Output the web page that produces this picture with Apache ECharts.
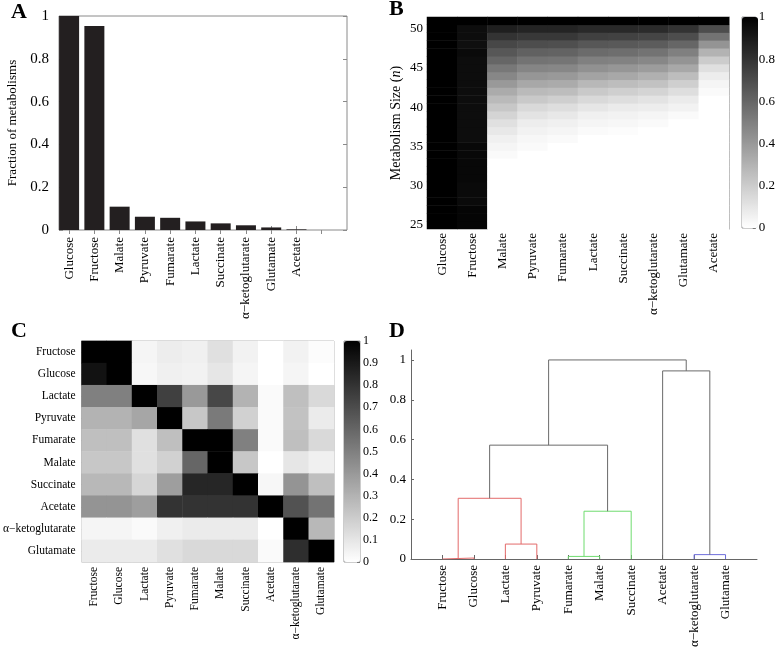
<!DOCTYPE html>
<html><head><meta charset="utf-8">
<script src="https://cdn.jsdelivr.net/npm/echarts@6/dist/echarts.min.js"></script>
<style>html,body{margin:0;padding:0;background:#fff}#c{width:778px;height:650px}</style>
</head><body><div id="c"></div>
<script>
// ---------- DATA ----------
// Panel A
const metabolites = ['Glucose','Fructose','Malate','Pyruvate','Fumarate','Lactate','Succinate','α−ketoglutarate','Glutamate','Acetate'];
const fractionValues = [1.0, 0.953, 0.109, 0.062, 0.057, 0.040, 0.031, 0.022, 0.012, 0.003];
const fractionTicks = [0, 0.2, 0.4, 0.6, 0.8, 1];

// Panel B (metabolism size n = 25 .. 51, one value per n, per metabolite column)
const sizeValues = [25,26,27,28,29,30,31,32,33,34,35,36,37,38,39,40,41,42,43,44,45,46,47,48,49,50,51];
const colGlucose   = [1,1,1,1,1,1,1,1,1,1,1,1,1,1,1,1,1,1,1,1,1,1,1,1,1,1,1];
const colFructose  = [0.98,0.98,0.98,0.96,0.96,0.96,0.97,0.97,0.97,0.97,0.97,0.95,0.95,0.95,0.95,0.95,0.95,0.95,0.95,0.95,0.95,0.95,0.96,0.94,0.95,0.95,1];
const colMalate    = [0,0,0,0,0,0,0,0,0,0.02,0.04,0.06,0.09,0.12,0.17,0.22,0.27,0.33,0.40,0.47,0.53,0.60,0.66,0.72,0.80,0.88,1];
const colPyruvate  = [0,0,0,0,0,0,0,0,0,0,0.02,0.03,0.05,0.07,0.11,0.15,0.21,0.27,0.34,0.41,0.48,0.55,0.62,0.70,0.78,0.86,1];
const colFumarate  = [0,0,0,0,0,0,0,0,0,0,0,0.02,0.04,0.06,0.09,0.13,0.19,0.26,0.33,0.40,0.47,0.54,0.61,0.69,0.78,0.86,1];
const colLactate   = [0,0,0,0,0,0,0,0,0,0,0,0,0.02,0.04,0.06,0.10,0.15,0.21,0.28,0.36,0.43,0.50,0.58,0.66,0.75,0.84,1];
const colSuccinate = [0,0,0,0,0,0,0,0,0,0,0,0,0.01,0.03,0.05,0.08,0.13,0.19,0.26,0.34,0.41,0.49,0.57,0.65,0.74,0.84,1];
const colKetoglut  = [0,0,0,0,0,0,0,0,0,0,0,0,0,0.02,0.04,0.07,0.11,0.17,0.24,0.31,0.39,0.47,0.55,0.64,0.73,0.83,1];
const colGlutamate = [0,0,0,0,0,0,0,0,0,0,0,0,0,0,0.02,0.05,0.08,0.13,0.19,0.26,0.34,0.42,0.50,0.60,0.70,0.80,1];
const colAcetate   = [0,0,0,0,0,0,0,0,0,0,0,0,0,0,0,0,0,0.02,0.04,0.07,0.12,0.20,0.30,0.42,0.55,0.70,1];
const colorbarTicksB = [0, 0.2, 0.4, 0.6, 0.8, 1];

// Panel C (similarity matrix, rows top->bottom, columns left->right)
const simNames = ['Fructose','Glucose','Lactate','Pyruvate','Fumarate','Malate','Succinate','Acetate','α−ketoglutarate','Glutamate'];
const rowFructose  = [1.00,1.00,0.04,0.07,0.06,0.12,0.05,0.00,0.05,0.01];
const rowGlucose   = [0.93,1.00,0.03,0.06,0.05,0.10,0.04,0.00,0.04,0.00];
const rowLactate   = [0.50,0.50,1.00,0.75,0.40,0.72,0.30,0.02,0.25,0.15];
const rowPyruvate  = [0.30,0.30,0.35,1.00,0.22,0.52,0.18,0.02,0.24,0.08];
const rowFumarate  = [0.25,0.25,0.12,0.25,1.00,1.00,0.50,0.02,0.25,0.15];
const rowMalate    = [0.22,0.22,0.12,0.18,0.60,1.00,0.22,0.00,0.10,0.06];
const rowSuccinate = [0.28,0.28,0.16,0.38,0.85,0.85,1.00,0.03,0.42,0.25];
const rowAcetate   = [0.42,0.42,0.38,0.80,0.80,0.80,0.80,1.00,0.68,0.55];
const rowKetoglut  = [0.04,0.04,0.02,0.06,0.08,0.08,0.08,0.00,1.00,0.28];
const rowGlutamate = [0.08,0.08,0.08,0.12,0.15,0.15,0.15,0.02,0.82,1.00];
const colorbarTicksC = [0,0.1,0.2,0.3,0.4,0.5,0.6,0.7,0.8,0.9,1];

// Panel D (dendrogram): leaves in display order, merges [nodeA, nodeB, height, group]
const dendroLeaves = ['Fructose','Glucose','Lactate','Pyruvate','Fumarate','Malate','Succinate','Acetate','α−ketoglutarate','Glutamate'];
const dendroMerges = [
  [0, 1, 0.005, 'red'],     // node 10
  [4, 5, 0.013, 'green'],   // node 11
  [8, 9, 0.022, 'blue'],    // node 12
  [2, 3, 0.075, 'red'],     // node 13
  [11, 6, 0.240, 'green'],  // node 14
  [10, 13, 0.305, 'red'],   // node 15
  [15, 14, 0.572, 'gray'],  // node 16
  [7, 12, 0.945, 'gray'],   // node 17
  [16, 17, 1.000, 'gray']   // node 18
];
const dendroTicks = [0, 0.2, 0.4, 0.6, 0.8, 1];

// ---------- BUILD ----------
const serif = 'Liberation Serif';
const txt = {color:'#000', fontFamily: serif};
const frame = '#8a8a8a';
const groupColors = {red:'#e36a6a', green:'#6fdc6f', blue:'#6f6fdc', gray:'#6a6a6a'};

const bColumns = [colGlucose,colFructose,colMalate,colPyruvate,colFumarate,colLactate,colSuccinate,colKetoglut,colGlutamate,colAcetate];
const heatB = [];
bColumns.forEach((col, ci) => col.forEach((v, ri) => heatB.push([ci, ri, v])));

const cRows = [rowFructose,rowGlucose,rowLactate,rowPyruvate,rowFumarate,rowMalate,rowSuccinate,rowAcetate,rowKetoglut,rowGlutamate];
const heatC = [];
cRows.forEach((row, ri) => row.forEach((v, ci) => heatC.push([ci, ri, v])));

// dendrogram node positions
const nodeX = dendroLeaves.map((_, i) => i + 1);
const nodeY = dendroLeaves.map(() => 0);
const dendroSeries = [];
dendroMerges.forEach(([a, b, h, g]) => {
  dendroSeries.push({
    type:'line', xAxisIndex:7, yAxisIndex:8, symbol:'none', silent:true,
    lineStyle:{color: groupColors[g], width:1},
    data:[[nodeX[a], nodeY[a]], [nodeX[a], h], [nodeX[b], h], [nodeX[b], nodeY[b]]]
  });
  nodeX.push((nodeX[a] + nodeX[b]) / 2);
  nodeY.push(h);
});

const catIdx = metabolites.map((_, i) => i + 1);
const hidden = {show:false};
const noSplit = {show:false};

const option = {
  animation:false,
  backgroundColor:'#fff',
  title:[
    {text:'A', left:11, top:1, padding:0, textStyle:{fontFamily:serif, fontWeight:'bold', fontSize:22, color:'#000'}},
    {text:'B', left:389, top:-2, padding:0, textStyle:{fontFamily:serif, fontWeight:'bold', fontSize:22, color:'#000'}},
    {text:'C', left:11, top:320, padding:0, textStyle:{fontFamily:serif, fontWeight:'bold', fontSize:22, color:'#000'}},
    {text:'D', left:389, top:320, padding:0, textStyle:{fontFamily:serif, fontWeight:'bold', fontSize:22, color:'#000'}}
  ],
  grid:[
    {left:59, top:16, width:288, height:214, show:true, borderColor:frame, borderWidth:1},   // A
    {left:427, top:17, width:302, height:212},                                           // B
    {left:742, top:17, width:16, height:211, show:true, borderColor:'#999', borderWidth:1}, // B colorbar
    {left:77, top:341, width:257, height:221, show:true, borderColor:'#aaa', borderWidth:1}, // C
    {left:344, top:341, width:16, height:221, show:true, borderColor:'#999', borderWidth:1}, // C colorbar
    {left:411, top:350, width:346, height:209}                                           // D
  ],
  xAxis:[
    // 0: A bottom
    {gridIndex:0, type:'value', min:0.6, max:12, axisLine:hidden, splitLine:noSplit,
     axisTick:{show:true, inside:true, length:4, customValues:catIdx, lineStyle:{color:frame}},
     axisLabel:Object.assign({customValues:catIdx, formatter:v => metabolites[v-1] || '', rotate:90, fontSize:13, margin:7}, txt)},
    // 1: A top ticks
    {gridIndex:0, type:'value', position:'top', min:0.6, max:12, axisLine:hidden, splitLine:noSplit,
     axisTick:{show:true, inside:true, length:4, customValues:[1,2,3,4,5,6,7,8,9,10,11], lineStyle:{color:frame}},
     axisLabel:hidden},
    // 2: B
    {gridIndex:1, type:'category', data:metabolites, axisLine:hidden, axisTick:hidden, splitLine:noSplit,
     axisLabel:Object.assign({rotate:90, fontSize:13, margin:4, interval:0}, txt)},
    // 3: B colorbar
    {gridIndex:2, type:'category', data:[''], show:false},
    // 4: C bottom
    {gridIndex:3, type:'category', data:simNames, axisLine:hidden, splitLine:noSplit,
     axisTick:{show:true, inside:true, alignWithLabel:true, length:3, lineStyle:{color:'#888'}},
     axisLabel:Object.assign({rotate:90, fontSize:11.5, margin:5, interval:0}, txt)},
    // 5: C top ticks
    {gridIndex:3, type:'category', position:'top', data:simNames, axisLine:hidden,
     axisTick:{show:true, inside:true, alignWithLabel:true, length:3, lineStyle:{color:'#888'}}, axisLabel:hidden},
    // 6: C colorbar
    {gridIndex:4, type:'category', data:[''], show:false},
    // 7: D
    {gridIndex:5, type:'value', min:0, max:11, splitLine:noSplit,
     axisLine:{show:true, onZero:false, lineStyle:{color:'#666'}},
     axisTick:{show:true, inside:true, length:4, customValues:[1,2,3,4,5,6,7,8,9,10], lineStyle:{color:'#666'}},
     axisLabel:Object.assign({customValues:[1,2,3,4,5,6,7,8,9,10], formatter:v => dendroLeaves[v-1] || '', rotate:90, fontSize:13, margin:6}, txt)}
  ],
  yAxis:[
    // 0: A left
    {gridIndex:0, type:'value', min:0, max:1, interval:0.2, axisLine:hidden, splitLine:noSplit,
     axisTick:{show:true, inside:true, length:4, customValues:fractionTicks, lineStyle:{color:frame}},
     axisLabel:Object.assign({customValues:fractionTicks, fontSize:15, margin:10}, txt),
     name:'Fraction of metabolisms', nameLocation:'middle', nameRotate:90, nameGap:40,
     nameTextStyle:Object.assign({fontSize:13}, txt)},
    // 1: A right ticks
    {gridIndex:0, type:'value', position:'right', min:0, max:1, interval:0.2, axisLine:hidden, splitLine:noSplit,
     axisTick:{show:true, inside:true, length:4, lineStyle:{color:frame}}, axisLabel:hidden},
    // 2: B left
    {gridIndex:1, type:'category', data:sizeValues, axisLine:hidden, axisTick:hidden, splitLine:noSplit,
     axisLabel:Object.assign({interval:(i, v) => Number(v) % 5 === 0, fontSize:13, margin:4}, txt),
     name:'{a|Metabolism Size (}{i|n}{a|)}', nameLocation:'middle', nameRotate:90, nameGap:24,
     nameTextStyle:{rich:{a:Object.assign({fontSize:14}, txt), i:Object.assign({fontSize:14, fontStyle:'italic'}, txt)}}},
    // 3: B right edge line
    {gridIndex:1, type:'category', position:'right', data:sizeValues, axisLine:{show:true, lineStyle:{color:'#aaa'}},
     axisTick:hidden, axisLabel:hidden, splitLine:noSplit},
    // 4: B colorbar
    {gridIndex:2, type:'value', position:'right', min:0, max:1, interval:0.2, axisLine:hidden, splitLine:noSplit,
     axisTick:{show:true, inside:true, length:3, lineStyle:{color:'#777'}},
     axisLabel:Object.assign({customValues:colorbarTicksB, fontSize:13, margin:3}, txt)},
    // 5: C left
    {gridIndex:3, type:'category', data:simNames, inverse:true, axisLine:hidden, splitLine:noSplit,
     axisTick:{show:true, inside:true, alignWithLabel:true, length:3, lineStyle:{color:'#888'}},
     axisLabel:Object.assign({fontSize:11.5, margin:6, interval:0}, txt)},
    // 6: C right ticks
    {gridIndex:3, type:'category', position:'right', data:simNames, inverse:true, axisLine:hidden,
     axisTick:{show:true, inside:true, alignWithLabel:true, length:3, lineStyle:{color:'#888'}}, axisLabel:hidden},
    // 7: C colorbar
    {gridIndex:4, type:'value', position:'right', min:0, max:1, interval:0.1, axisLine:hidden, splitLine:noSplit,
     axisTick:{show:true, inside:true, length:3, lineStyle:{color:'#777'}},
     axisLabel:Object.assign({customValues:colorbarTicksC, fontSize:12, margin:3}, txt)},
    // 8: D
    {gridIndex:5, type:'value', min:0, max:1.05, interval:0.2, splitLine:noSplit,
     axisLine:{show:true, lineStyle:{color:'#666'}},
     axisTick:{show:true, inside:true, length:3, customValues:dendroTicks, lineStyle:{color:'#666'}},
     axisLabel:Object.assign({customValues:dendroTicks, fontSize:13, margin:5}, txt)}
  ],
  visualMap:[
    {type:'continuous', min:0, max:1, seriesIndex:1, inRange:{color:['#ffffff','#000000']},
     left:742, top:17, itemWidth:16, itemHeight:211, calculable:false, padding:0, hoverLink:false, text:null, z:1},
    {type:'continuous', min:0, max:1, seriesIndex:2, inRange:{color:['#ffffff','#000000']},
     left:344, top:341, itemWidth:16, itemHeight:221, calculable:false, padding:0, hoverLink:false, text:null, z:1}
  ],
  series:[
    {type:'bar', xAxisIndex:0, yAxisIndex:0, barWidth:20, itemStyle:{color:'#231f20'},
     data:fractionValues.map((v, i) => [i + 1, v])},
    {type:'heatmap', xAxisIndex:2, yAxisIndex:2, data:heatB},
    {type:'heatmap', xAxisIndex:4, yAxisIndex:5, data:heatC}
  ].concat(dendroSeries)
};

const chart = echarts.init(document.getElementById('c'));
chart.setOption(option);
</script>
</body></html>
